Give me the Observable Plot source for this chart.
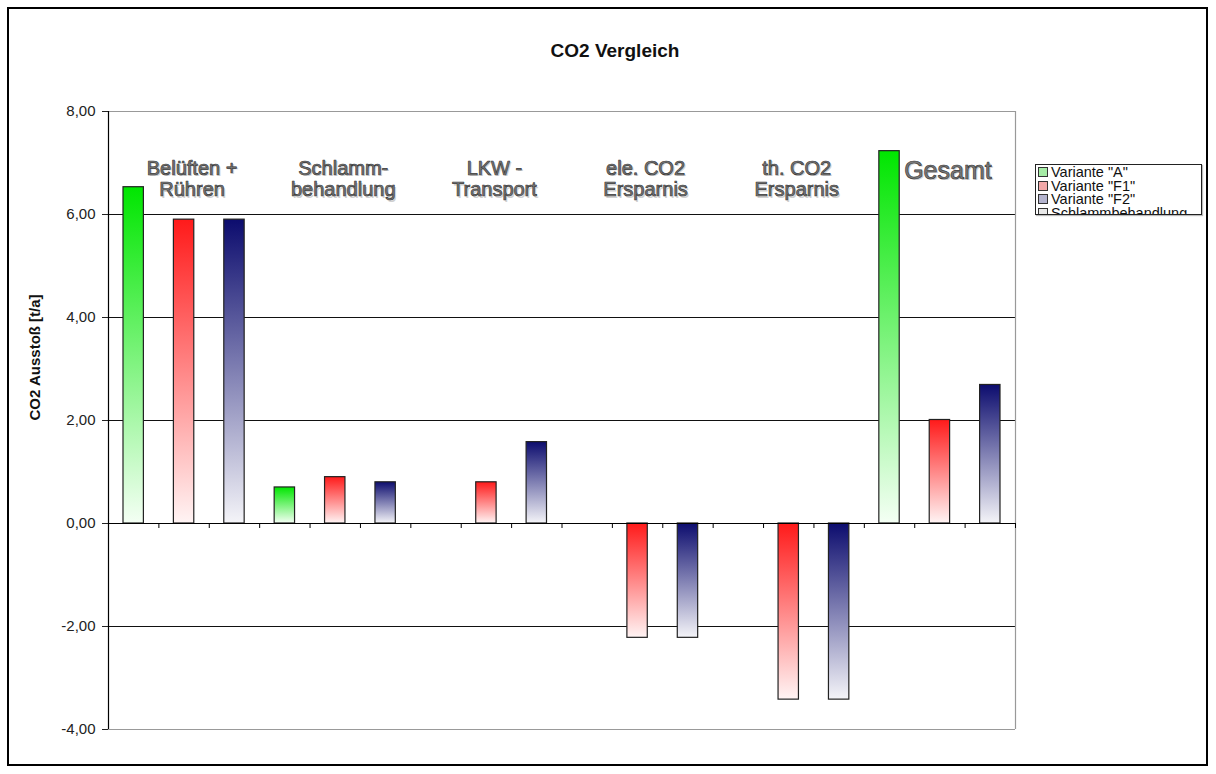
<!DOCTYPE html>
<html><head><meta charset="utf-8">
<script src="https://cdn.jsdelivr.net/npm/d3@7"></script>
<script src="https://cdn.jsdelivr.net/npm/@observablehq/plot@0.6"></script>
<style>
body{margin:0;background:#fff;}
#wrap{position:relative;width:1216px;height:774px;font-family:"Liberation Sans",Arial,sans-serif;overflow:hidden;background:#fff;}
#frame{position:absolute;left:7px;top:7px;width:1197px;height:755px;border:2px solid #000;pointer-events:none;}
#title{position:absolute;left:465px;width:300px;top:41px;text-align:center;font-weight:bold;font-size:19px;line-height:19px;color:#111;}
#legend{position:absolute;left:1035px;top:164px;width:165px;height:49px;border:1.5px solid #222;overflow:hidden;background:#fff;box-shadow:1px 1px 1px #bbb;}
.item{font-size:14.5px;line-height:13.5px;white-space:nowrap;padding-left:2px;color:#111;}
.item:first-child{margin-top:1px;}
.sw{display:inline-block;width:8px;height:8px;border:1px solid #333;margin-right:3px;vertical-align:0px;}
</style></head>
<body><div id="wrap"><div id="chart"></div><div id="frame"></div><div id="title"></div><div id="legend"></div></div>
<script>
const title = "CO2 Vergleich";
const yLabel = "CO2 Ausstoß [t/a]";
const groups = ["Belüften +\nRühren", "Schlamm-\nbehandlung", "LKW -\nTransport", "ele. CO2\nErsparnis", "th. CO2\nErsparnis", "Gesamt"];
const variants = ['Variante "A"', 'Variante "F1"', 'Variante "F2"'];
const legendLabels = ['Variante "A"', 'Variante "F1"', 'Variante "F2"', "Schlammbehandlung"];
const valuesA  = [6.53, 0.70, 0,    0,     0,     7.23];
const valuesF1 = [5.90, 0.90, 0.80, -2.22, -3.42, 2.01];
const valuesF2 = [5.90, 0.80, 1.58, -2.22, -3.42, 2.69];
const yTicks = [-4, -2, 0, 2, 4, 6, 8];
const barColors = ["#00e600", "#ff1a1a", "#0c0c6e"];
const barEndColors = ["#f4fff4", "#fff4f4", "#f4f4f8"];
const swatchColors = ["#a6eca6", "#f2a8a8", "#b4b4cf", "#e8e8e8"];

const seriesValues = [valuesA, valuesF1, valuesF2];
const nVar = variants.length;
const nSlots = groups.length * nVar;
const bars = [];
groups.forEach((g, gi) => seriesValues.forEach((vals, vi) => {
  bars.push({group: g, variant: variants[vi], vi, slot: gi * nVar + vi, value: vals[gi]});
}));
const fmt = d => d.toFixed(2).replace(".", ",");

const defs = () => {
  const d = d3.create("svg:defs");
  barColors.forEach((c, i) => {
    const lg = d.append("linearGradient").attr("id", "grad" + i)
      .attr("x1", 0).attr("y1", 0).attr("x2", 0).attr("y2", 1);
    lg.append("stop").attr("offset", "0%").attr("stop-color", c);
    lg.append("stop").attr("offset", "100%").attr("stop-color", barEndColors[i]);
  });
  return d.node();
};

const gridVals = yTicks.filter(t => t !== 0 && t !== yTicks[0] && t !== yTicks[yTicks.length - 1]);
const edgeVals = [yTicks[0], yTicks[yTicks.length - 1]];
const labelSize = d => d === "Gesamt" ? 25 : 20;

const chart = Plot.plot({
  width: 1216, height: 774,
  marginLeft: 108, marginRight: 201, marginTop: 111, marginBottom: 45,
  style: {fontFamily: '"Liberation Sans", Arial, sans-serif', fontSize: "15px", color: "#222", background: "transparent", overflow: "visible"},
  x: {domain: [0, nSlots], axis: null},
  y: {domain: [yTicks[0], yTicks[yTicks.length - 1]], ticks: yTicks, tickFormat: fmt, tickSize: 6, tickPadding: 7, label: null},
  marks: [
    defs,
    Plot.ruleY(gridVals, {stroke: "#111", strokeWidth: 1}),
    Plot.ruleY(edgeVals, {stroke: "#999", strokeWidth: 1.2}),
    Plot.ruleX([nSlots], {stroke: "#999", strokeWidth: 1.2}),
    ...variants.map((v, vi) => Plot.rect(bars.filter(d => d.vi === vi && d.value !== 0), {
      x1: d => d.slot, x2: d => d.slot + 1, y1: 0, y2: "value",
      insetLeft: 15, insetRight: 15,
      fill: `url(#grad${vi})`, stroke: "#222", strokeWidth: 1.2
    })),
    Plot.ruleY([0], {stroke: "#000", strokeWidth: 1.2}),
    Plot.ruleX(d3.range(nSlots + 1), {y1: 0, y2: 0, insetBottom: -5, stroke: "#000"}),
    Plot.ruleX([0], {stroke: "#000", strokeWidth: 1.2}),
    Plot.text([yLabel], {frameAnchor: "left", dx: -73, rotate: -90, fontWeight: "bold", fontSize: 15, fill: "#111"}),
    Plot.text(groups, {
      x: (d, i) => i * nVar + nVar / 2, frameAnchor: "top", lineAnchor: "top", dy: 49.5, dx: 9.5,
      text: d => d, fontSize: labelSize, lineHeight: 1.08,
      fill: "#d0d0d0", stroke: "none"
    }),
    Plot.text(groups, {
      x: (d, i) => i * nVar + nVar / 2, frameAnchor: "top", lineAnchor: "top", dy: 48, dx: 8,
      text: d => d, fontSize: labelSize, lineHeight: 1.08,
      fill: "#7a7a7a", stroke: "#3a3a3a", strokeWidth: 0.7, paintOrder: "normal"
    })
  ]
});
document.getElementById("chart").appendChild(chart);
document.getElementById("title").textContent = title;
const leg = document.getElementById("legend");
legendLabels.forEach((l, i) => {
  const div = document.createElement("div");
  div.className = "item";
  const sw = document.createElement("span");
  sw.className = "sw";
  sw.style.background = swatchColors[i];
  div.appendChild(sw);
  div.appendChild(document.createTextNode(l));
  leg.appendChild(div);
});
</script>
</body></html>
